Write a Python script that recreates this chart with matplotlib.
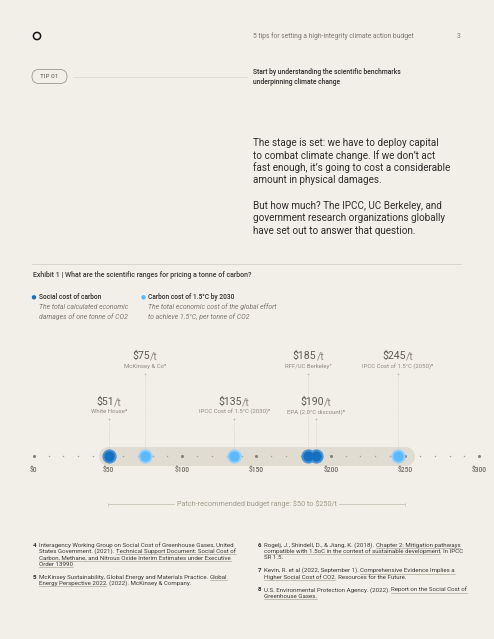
import matplotlib.pyplot as plt
from matplotlib.patches import FancyBboxPatch, Circle

plt.rcParams['font.family'] = ['Roboto', 'DejaVu Sans']

# ---- data ----
social_values = [51, 185, 190]
social_sources = ['White House\u2074', 'RFF/UC Berkeley\u2077', 'EPA (2.0\u00b0C discount)\u2078']
carbon_values = [75, 135, 245]
carbon_sources = ['McKinsey & Co\u2075', 'IPCC Cost of 1.5\u00b0C (2030)\u2076', 'IPCC Cost of 1.5\u00b0C (2050)\u2076']
tick_values = [0, 50, 100, 150, 200, 250, 300]
tick_labels = ['$0', '$50', '$100', '$150', '$200', '$250', '$300']
minor_values = list(range(0, 301, 10))
budget_range = [50, 250]

paragraph = [
    'The stage is set: we have to deploy capital',
    'to combat climate change. If we don\u2019t act',
    'fast enough, it\u2019s going to cost a considerable',
    'amount in physical damages.',
    '',
    'But how much? The IPCC, UC Berkeley, and',
    'government research organizations globally',
    'have set out to answer that question.',
]

footnotes_left = [
    ('4', [[('Interagency Working Group on Social Cost of Greenhouse Gases, United', False)],
           [('States Government. (2021). ', False), ('Technical Support Document: Social Cost of', True)],
           [('Carbon, Methane, and Nitrous Oxide Interim Estimates under Executive', True)],
           [('Order 13990', True)]]),
    ('5', [[('McKinsey Sustainability, Global Energy and Materials Practice. ', False), ('Global', True)],
           [('Energy Perspective 2022', True), ('. (2022). McKinsey & Company.', False)]]),
]
footnotes_right = [
    ('6', [[('Rogelj, J., Shindell, D., & Jiang, K. (2018). ', False), ('Chapter 2: Mitigation pathways', True)],
           [('compatible with 1.5oC in the context of sustainable development', True), ('. In IPCC', False)],
           [('SR 1.5.', False)]]),
    ('7', [[('Kevin, R. et al (2022, September 1). ', False), ('Comprehensive Evidence Implies a', True)],
           [('Higher Social Cost of CO2', True), ('. Resources for the Future.', False)]]),
    ('8', [[('U.S. Environmental Protection Agency. (2022). ', False), ('Report on the Social Cost of', True)],
           [('Greenhouse Gases.', True)]]),
]

# ---- colours ----
BG = '#f2efe8'
DARK = '#2e2d2a'
GREY = '#7d796f'
DARK_BLUE = '#1670c0'
DARK_HALO = '#4a92d6'
LIGHT_BLUE = '#5cb8ff'
LIGHT_HALO = '#93d0ff'
BAND = '#e0dcd2'

fig = plt.figure(figsize=(4.94, 6.39), dpi=100)
fig.patch.set_facecolor(BG)

# page axes in pixel units
page = fig.add_axes([0, 0, 1, 1])
page.set_xlim(0, 494)
page.set_ylim(639, 0)
page.axis('off')

# chart axes: x in dollars, y in pixels
x0_px, px_per = 33.7, 1.4853
ax = fig.add_axes([0, 0, 1, 1])
ax.set_xlim(-x0_px / px_per, (494 - x0_px) / px_per)
ax.set_ylim(639, 0)
ax.axis('off')
ax.patch.set_alpha(0)

rend = fig.canvas.get_renderer()


def width(s, **kw):
    t = page.text(0, 0, s + '|', parse_math=False, **kw)
    t2 = page.text(0, 0, '|', parse_math=False, **kw)
    w = t.get_window_extent(rend).width - t2.get_window_extent(rend).width
    t.remove()
    t2.remove()
    return w


def runs(axis, x, y, parts, ha='left', scale=1.0, **kw):
    # parts: (text, colour, underline); scale = pixels per x unit
    full = ''.join(p[0] for p in parts)
    total = width(full, **kw) / scale
    if ha == 'center':
        x = x - total / 2
    prefix = ''
    for txt, col, ul in parts:
        xs = x + width(prefix, **kw) / scale if prefix else x
        axis.text(xs, y, txt, color=col, va='baseline', ha='left', parse_math=False, **kw)
        if ul:
            w = width(txt.rstrip(), **kw) / scale
            axis.plot([xs, xs + w], [y + 1.4, y + 1.4], color='#9c978b', lw=0.4)
        prefix += txt


# ---- header ----
page.add_patch(Circle((37, 36), 3.6, fill=False, ec='#111111', lw=1.1))
page.text(253, 36, '5 tips for setting a high-integrity climate action budget', fontsize=4.85,
          color=GREY, va='center')
page.text(459, 36, '3', fontsize=4.85, color=GREY, va='center', ha='center')

page.add_patch(FancyBboxPatch((32, 69.5), 35, 14, boxstyle='round,pad=0,rounding_size=7',
                              fc='none', ec='#8c877c', lw=0.5))
page.text(49.5, 76.8, 'TIP 01', fontsize=4.6, color='#5b5850', va='center', ha='center')
page.plot([73, 247], [76.8, 76.8], color='#d9d4c8', lw=0.5)
page.text(253, 72.5, 'Start by understanding the scientific benchmarks', fontsize=4.85,
          color=DARK, va='center', weight='medium')
page.text(253, 81.7, 'underpinning climate change', fontsize=4.85, color=DARK, va='center',
          weight='medium')

# ---- paragraph ----
for i, line in enumerate(paragraph):
    if line:
        page.text(253, 142.5 + i * 12.65, line, fontsize=7.1, color=DARK, va='center')

# ---- exhibit title ----
page.plot([32, 461], [264, 264], color='#d6d1c6', lw=0.6)
page.text(33, 275, 'Exhibit 1 | What are the scientific ranges for pricing a tonne of carbon?',
          fontsize=5.0, color='#3c3b37', va='center', weight='medium')

# legend
page.add_patch(Circle((34, 297.3), 1.5, color=DARK_BLUE))
page.text(39, 297.3, 'Social cost of carbon', fontsize=4.8, color=DARK, va='center', weight='medium')
page.text(39, 307, 'The total calculated economic', fontsize=4.95, color=GREY, va='center', style='italic')
page.text(39, 316.7, 'damages of one tonne of CO2', fontsize=4.95, color=GREY, va='center', style='italic')
page.add_patch(Circle((143.5, 297.3), 1.5, color=LIGHT_BLUE))
page.text(148.3, 297.3, 'Carbon cost of 1.5\u00b0C by 2030', fontsize=4.8, color=DARK, va='center',
          weight='medium')
page.text(148.3, 307, 'The total economic cost of the global effort', fontsize=4.95, color=GREY,
          va='center', style='italic')
page.text(148.3, 316.7, 'to achieve 1.5\u00b0C, per tonne of CO2', fontsize=4.95, color=GREY,
          va='center', style='italic')

# ---- number line ----
axis_y = 456
ax.plot(budget_range, [axis_y, axis_y], color=BAND, lw=13.7, solid_capstyle='round', zorder=1)
small = [v for v in minor_values if v not in tick_values]
ax.scatter(small, [axis_y] * len(small), s=1.2, color='#a8a397', lw=0, zorder=2)
ax.scatter(tick_values, [axis_y] * len(tick_values), s=5, color='#888274', lw=0, zorder=2)
for v, lab in zip(tick_values, tick_labels):
    ax.text(v, 471, lab, fontsize=4.8, color='#6b675e', ha='center', va='center',
            weight='medium', parse_math=False)

# labels: upper row and lower row
upper = {75, 185, 245}
all_vals = social_values + carbon_values
all_src = social_sources + carbon_sources
for v, src in zip(all_vals, all_src):
    if v in upper:
        vy, sy, dy = 356, 366.7, 373.8
    else:
        vy, sy, dy = 402, 411.7, 419
    runs(ax, v, vy + 3, [('$%d' % v, '#5d5a53', False), ('/t', '#8f8a7f', False)], ha='center',
         scale=px_per, fontsize=7.6)
    ax.text(v, sy, src, fontsize=4.3, color='#8f8a7f', ha='center', va='center', parse_math=False)
    ax.scatter([v], [dy], s=1.5, color='#bdb7aa', lw=0, zorder=2)
    ax.plot([v, v], [dy + 2, axis_y - 6], color='#d2cdc1', lw=0.5, ls=(0, (1, 1.2)), zorder=1)

ax.scatter(social_values, [axis_y] * 3, s=105, color=DARK_HALO, lw=0, zorder=3)
ax.scatter(carbon_values, [axis_y] * 3, s=105, color=LIGHT_HALO, lw=0, zorder=3)
ax.scatter(social_values, [axis_y] * 3, s=55, color=DARK_BLUE, lw=0, zorder=4)
ax.scatter(carbon_values, [axis_y] * 3, s=55, color=LIGHT_BLUE, lw=0, zorder=4)

# budget range bracket
bx = budget_range
label = 'Patch-recommended budget range: $50 to $250/t'
mid = (bx[0] + bx[1]) / 2
half = width(label, fontsize=5.2) / 2 / px_per + 2
ax.text(mid, 504, label, fontsize=5.2, color='#a09b8e', ha='center', va='center', parse_math=False)
ax.plot([bx[0], mid - half], [504, 504], color='#cdc8bc', lw=0.7)
ax.plot([mid + half, bx[1]], [504, 504], color='#cdc8bc', lw=0.7)
for b in bx:
    ax.plot([b, b], [502.5, 505.5], color='#cdc8bc', lw=0.5)


# ---- footnotes ----
def footnotes(notes, xn, xt, y):
    for num, lines in notes:
        page.text(xn, y + 1.7, num, fontsize=4.4, color=DARK, va='baseline', weight='bold')
        for parts in lines:
            runs(page, xt, y + 1.7, [(t, '#3a3935', u) for t, u in parts], fontsize=4.4)
            y += 6.35
        y += 6.4
    return y


footnotes(footnotes_left, 33, 39, 545)
footnotes(footnotes_right, 258, 264, 545)

fig.savefig('out.png', dpi=100, facecolor=BG)
